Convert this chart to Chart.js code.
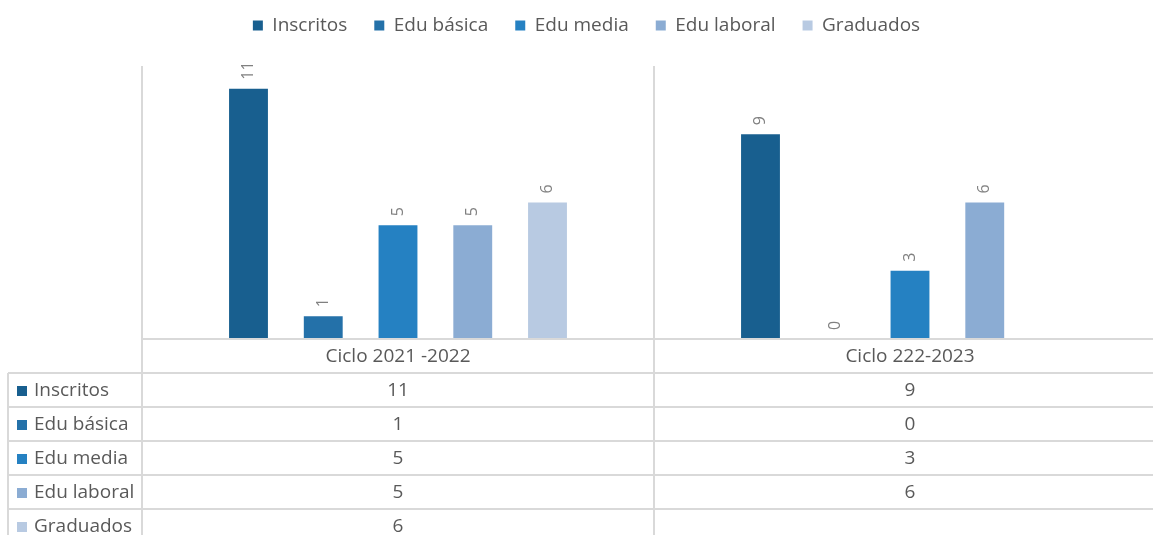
<!DOCTYPE html>
<html>
<head>
<meta charset="utf-8">
<script src="https://cdn.jsdelivr.net/npm/chart.js@4/dist/chart.umd.min.js"></script>
<style>
  html, body { margin: 0; padding: 0; background: #ffffff; overflow: hidden; }
  #wrap { width: 1170px; height: 535px; }
</style>
</head>
<body>
<div id="wrap"><canvas id="c" width="1170" height="535"></canvas></div>
<script>
// ---- data ----
const categories = ['Ciclo 2021 -2022', 'Ciclo 222-2023'];
const seriesNames = ['Inscritos', 'Edu básica', 'Edu media', 'Edu laboral', 'Graduados'];
const inscritos = [11, 9];
const eduBasica = [1, 0];
const eduMedia = [5, 3];
const eduLaboral = [5, 6];
const graduados = [6, null];
const seriesValues = [inscritos, eduBasica, eduMedia, eduLaboral, graduados];
const seriesColors = ['#185F8F', '#2471A9', '#2581C2', '#8BACD3', '#B8CAE2'];

const FONT = "'Open Sans', 'DejaVu Sans', sans-serif";
const TEXT = '#595959';
const GRID = '#d9d9d9';

const datasets = seriesNames.map((name, i) => ({
  label: name,
  data: seriesValues[i],
  backgroundColor: seriesColors[i],
  borderWidth: 0,
  categoryPercentage: 0.73,
  barPercentage: 0.52
}));

// legend spacing
const legendSpacer = {
  id: 'legendSpacer',
  beforeInit(chart) {
    const orig = chart.legend.fit;
    chart.legend.fit = function () {
      orig.bind(chart.legend)();
      this.height += 21;
    };
  }
};

// rotated value labels above bars
const valueLabels = {
  id: 'valueLabels',
  afterDatasetsDraw(chart) {
    const ctx = chart.ctx;
    ctx.save();
    ctx.font = "16px " + FONT;
    ctx.fillStyle = '#808080';
    ctx.textAlign = 'left';
    ctx.textBaseline = 'middle';
    chart.data.datasets.forEach((ds, di) => {
      const meta = chart.getDatasetMeta(di);
      meta.data.forEach((bar, i) => {
        const v = ds.data[i];
        if (v === null || v === undefined) return;
        ctx.save();
        ctx.translate(bar.x, bar.y - 9);
        ctx.rotate(-Math.PI / 2);
        ctx.fillText(String(v), 0, 0);
        ctx.restore();
      });
    });
    ctx.restore();
  }
};

// data table below the plot
const dataTable = {
  id: 'dataTable',
  afterDraw(chart) {
    const ctx = chart.ctx;
    const area = chart.chartArea;
    const xs = chart.scales.x;
    const H = chart.height;
    const rowH = 34;
    const tableLeft = 8;
    const n = categories.length;
    const half = (xs.getPixelForValue(1) - xs.getPixelForValue(0)) / 2;
    const bounds = [];
    for (let i = 0; i < n; i++) bounds.push(xs.getPixelForValue(i) - half);
    bounds.push(xs.getPixelForValue(n - 1) + half);

    ctx.save();
    ctx.strokeStyle = GRID;
    ctx.lineWidth = 2;
    bounds.forEach(x => {
      ctx.beginPath();
      ctx.moveTo(x, area.top);
      ctx.lineTo(x, H);
      ctx.stroke();
    });
    ctx.beginPath();
    ctx.moveTo(tableLeft, area.bottom + rowH);
    ctx.lineTo(tableLeft, H);
    ctx.stroke();
    ctx.beginPath();
    ctx.moveTo(area.left, area.bottom);
    ctx.lineTo(bounds[n], area.bottom);
    ctx.stroke();
    for (let r = 0; r < seriesNames.length; r++) {
      const y = area.bottom + rowH * (r + 1);
      ctx.beginPath();
      ctx.moveTo(tableLeft, y);
      ctx.lineTo(bounds[n], y);
      ctx.stroke();
    }

    ctx.font = "19px " + FONT;
    ctx.fillStyle = TEXT;
    ctx.textBaseline = 'middle';
    ctx.textAlign = 'center';
    categories.forEach((c, i) => {
      ctx.fillText(c, xs.getPixelForValue(i), area.bottom + rowH / 2 + 1);
    });
    seriesNames.forEach((name, r) => {
      const cy = area.bottom + rowH * (r + 1) + rowH / 2 + 1;
      ctx.fillStyle = seriesColors[r];
      ctx.fillRect(17, cy - 5, 10, 10);
      ctx.fillStyle = TEXT;
      ctx.textAlign = 'left';
      ctx.fillText(name, 34, cy);
      ctx.textAlign = 'center';
      seriesValues[r].forEach((v, i) => {
        if (v === null || v === undefined) return;
        ctx.fillText(String(v), xs.getPixelForValue(i), cy);
      });
    });
    ctx.restore();
  }
};

new Chart(document.getElementById('c'), {
  type: 'bar',
  data: { labels: categories, datasets },
  options: {
    responsive: false,
    animation: false,
    layout: { padding: { top: -11, left: 7, right: 4, bottom: 196 } },
    plugins: {
      legend: {
        position: 'top',
        labels: {
          boxWidth: 10,
          boxHeight: 10,
          padding: 27,
          color: TEXT,
          font: { family: FONT, size: 19 }
        }
      },
      tooltip: { enabled: false }
    },
    scales: {
      x: { display: false, offset: true },
      y: {
        display: true,
        min: 0, max: 12,
        ticks: { display: false },
        grid: { display: false },
        border: { display: false },
        afterFit(scale) { scale.width = 135; }
      }
    }
  },
  plugins: [legendSpacer, valueLabels, dataTable]
});
</script>
</body>
</html>
